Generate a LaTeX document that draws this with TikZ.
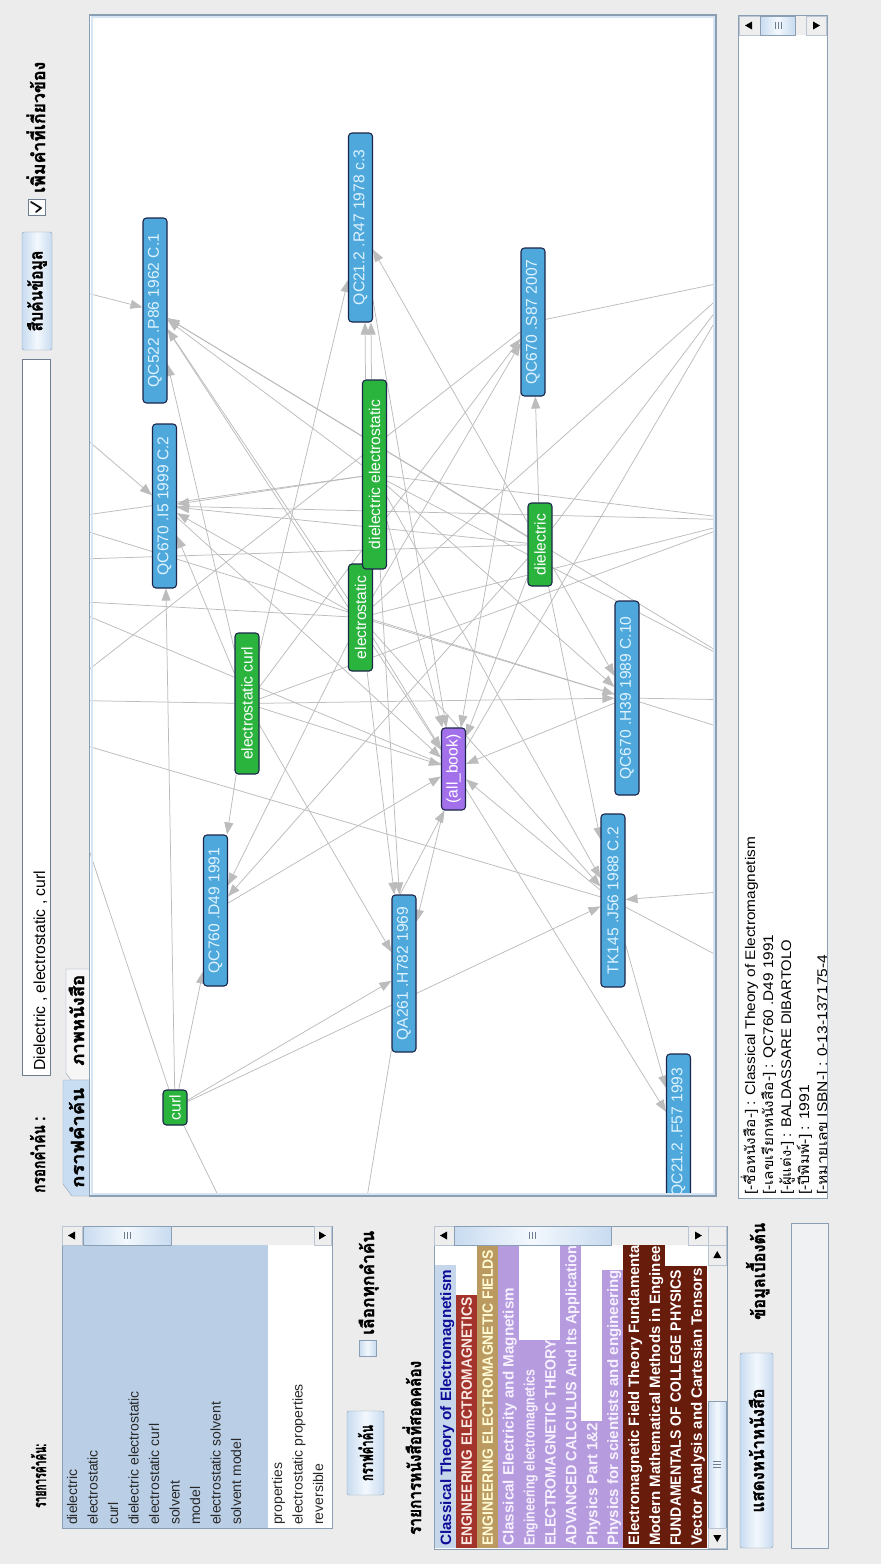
\documentclass[tikz,border=0pt]{standalone}
\usepackage{graphicx}
\usepackage{fontspec}
\usetikzlibrary{arrows.meta}
\newfontfamily\thaifont[Script=Thai]{Loma}
\newfontfamily\thaiheavy[Script=Thai,BoldFeatures={FakeBold=1.6}]{Loma}
\newfontfamily\uifont{Liberation Sans}
\newcommand\pxsize[1]{\fontsize{#1}{#1}\selectfont}
\newcommand\thaibold{\thaiheavy\bfseries\pxsize{18}}

\definecolor{guibg}{RGB}{236,236,236}
\definecolor{frame}{RGB}{138,158,180}
\definecolor{innerblue}{RGB}{214,228,244}
\definecolor{btnside}{RGB}{200,219,240}
\definecolor{btnmid}{RGB}{243,248,253}
\definecolor{tabsel}{RGB}{200,221,242}
\definecolor{tabgray}{RGB}{246,246,246}
\definecolor{selblue}{RGB}{186,206,229}
\definecolor{bookblue}{RGB}{78,168,220}
\definecolor{booktext}{RGB}{222,243,255}
\definecolor{keygreen}{RGB}{42,180,62}
\definecolor{allpurple}{RGB}{162,112,234}
\definecolor{nodeedge}{RGB}{28,38,74}
\definecolor{linkgray}{RGB}{188,188,188}
\definecolor{rowsel}{RGB}{198,215,236}
\definecolor{rowseltext}{RGB}{12,12,150}
\definecolor{rowred}{RGB}{163,52,44}
\definecolor{rowredtext}{RGB}{250,232,228}
\definecolor{rowtan}{RGB}{186,154,96}
\definecolor{rowtantext}{RGB}{255,250,212}
\definecolor{rowlav}{RGB}{182,156,222}
\definecolor{rowlavtext}{RGB}{246,240,255}
\definecolor{rowbrown}{RGB}{104,28,12}
\definecolor{textdark}{RGB}{24,24,24}
\definecolor{listtext}{RGB}{40,40,40}
\definecolor{trackgray}{RGB}{238,238,238}
\definecolor{fieldbg}{RGB}{240,241,243}

\pgfdeclarelayer{back}
\pgfdeclarelayer{edges}
\pgfsetlayers{back,edges,main}

\begin{document}
\begin{tikzpicture}[x=1pt,y=-1pt,
  rtext/.style={rotate=90, inner sep=0pt, anchor=base west},
  ctext/.style={rotate=90, inner sep=0pt},
  gnode/.style={rotate=90, draw=nodeedge, line width=1.1pt, rounded corners=3.5pt,
    inner sep=0pt, minimum height=24pt, font=\uifont\pxsize{15.6}},
  booknode/.style={gnode, fill=bookblue, text=booktext},
  keynode/.style={gnode, fill=keygreen, text=white},
  allnode/.style={gnode, fill=allpurple, text=white},
  link/.style={draw=linkgray, line width=0.75pt},
  arr/.style={link, -{Triangle[length=12pt,width=9pt]}},
  button/.style={draw=frame, rounded corners=2pt, left color=btnside, right color=btnside, middle color=btnmid},
  thumb/.style={draw=frame, left color=btnside, right color=btnside, middle color=btnmid},
  arrowbtn/.style={fill=trackgray, draw=frame!60},
]
\useasboundingbox (0,0) rectangle (881,1564);

\begin{pgfonlayer}{back}
  \fill[guibg] (0,0) rectangle (881,1564);
  \fill[white] (90,15) rectangle (716,1196);
\end{pgfonlayer}

% ---------- search bar ----------
\filldraw[fill=white, draw=frame!80!black] (28,199) rectangle (45,215);
\draw[line width=1.8pt, textdark, line cap=round, line join=round] (36,212) -- (41,208) -- (31,202);
\node[rtext] (addlbl) at (45,193) {\resizebox{131pt}{\height}{\thaibold เพิ่มคำที่เกี่ยวข้อง}};
\shadedraw[button] (22,232) rectangle (52,350);
\node[ctext] (searchbtn) at (37,291) {\resizebox{81pt}{\height}{\thaibold สืบค้นข้อมูล}};
\filldraw[fill=white, draw=frame!80!black] (22,359) rectangle (50,1075);
\node[rtext] (query) at (45,1071) {\resizebox{200pt}{\height}{\uifont\pxsize{16}Dielectric , electrostatic , curl}};
\node[rtext] (querylbl) at (45,1193) {\resizebox{76pt}{\height}{\thaibold กรอกคำค้น :}};

% ---------- tabs ----------
\filldraw[fill=tabgray, draw=frame] (90,969) -- (66,969) -- (66,1073) -- (71,1080) -- (90,1080);
\filldraw[fill=tabsel, draw=frame] (90,1080) -- (63,1080) -- (63,1184) -- (72,1196) -- (90,1196);
\node[rtext] (tabgraph) at (84,1188) {\resizebox{100pt}{\height}{\thaibold กราฟคำค้น}};
\node[rtext] (tabbook) at (84,1066) {\resizebox{91pt}{\height}{\thaibold ภาพหนังสือ}};

% ---------- graph nodes ----------
\begin{scope}
\clip (90,15) rectangle (716,1196);
\node[booknode, minimum width=185pt] (b1) at (155,310.5) {QC522 .P86 1962 C.1};
\node[booknode, minimum width=189pt] (b2) at (360.5,227.5) {QC21.2 .R47 1978 c.3};
\node[booknode, minimum width=148pt] (b3) at (533,322) {QC670 .S87 2007};
\node[booknode, minimum width=164pt] (b4) at (164.5,506) {QC670 .I5 1999 C.2};
\node[booknode, minimum width=194pt] (b10) at (627,698) {QC670 .H39 1989 C.10};
\node[booknode, minimum width=151pt] (b11) at (215.5,910.5) {QC760 .D49 1991};
\node[booknode, minimum width=157pt] (b13) at (404,973.5) {QA261 .H782 1969};
\node[booknode, minimum width=173pt] (b14) at (613,900.5) {TK145 .J56 1988 C.2};
\node[booknode, minimum width=156pt] (b15) at (678.5,1132) {QC21.2 .F57 1993};
\node[keynode, minimum width=141pt] (k2) at (247,703.5) {electrostatic curl};
\node[keynode, minimum width=107pt] (k4) at (360.5,617.5) {electrostatic};
\node[keynode, minimum width=189pt] (k3) at (374.5,474.5) {dielectric electrostatic};
\node[keynode, minimum width=83pt] (k5) at (540,544.5) {dielectric};
\node[keynode, minimum width=35pt] (k1) at (175,1107.5) {curl};
\node[allnode, minimum width=82pt] (ab) at (453.5,769) {(all\_book)};
\end{scope}

% ---------- graph links ----------
\begin{pgfonlayer}{edges}
\begin{scope}
\clip (90,15) rectangle (716,1196);
\coordinate (r1) at (740,279);
\coordinate (r2) at (745,520);
\coordinate (r3) at (745,668);
\coordinate (r4) at (745,700);
\coordinate (r5) at (745,890);
\coordinate (r6) at (760,978);
\coordinate (r7) at (745,735);
\coordinate (l1) at (40,281);
\coordinate (l2) at (50,408);
\coordinate (l3) at (50,520);
\coordinate (l4) at (50,560);
\coordinate (l5) at (50,600);
\coordinate (l6) at (50,700);
\coordinate (l7) at (70,793);
\coordinate (l8) at (50,735);
\coordinate (d1) at (240,1240);
\coordinate (d2) at (360,1240);
% curl
\draw[arr] (k1) -- (b11);
\draw[arr] (k1) -- (b4);
\draw[arr] (k1) -- (b13);
\draw[arr] (k1) -- (b14);
\draw[link] (k1) -- (l7);
\draw[link] (k1) -- (d1);
% electrostatic curl
\draw[arr] (k2) -- (b4);
\draw[arr] (k2) -- (b1);
\draw[arr] (k2) -- (b11);
\draw[arr] (k2) -- (b10);
\draw[arr] (k2) -- (b13);
\draw[arr] (k2) -- (ab);
\draw[arr] (k2) -- (b2);
\draw[arr] (k2) -- (b3);
\draw[link] (k2) -- (r2);
\draw[link] (k2) -- (l6);
% dielectric electrostatic
\draw[arr] ([xshift=-9pt]k3.east) -- ([xshift=4.5pt]b2.west);
\draw[arr] ([xshift=-3pt]k3.east) -- ([xshift=10.5pt]b2.west);
\draw[arr] (k3) -- (b1);
\draw[arr] (k3) -- (b4);
\draw[arr] (k3) -- (b13);
\draw[arr] (k3) -- (b10);
\draw[arr] (k3) -- (b14);
\draw[arr] (k3) -- (ab);
\draw[link] (k3) -- (l3);
\draw[link] (k3) -- (r2);
\draw[link] (k3) -- (r3);
% electrostatic
\draw[arr] (k4) -- (b1);
\draw[arr] (k4) -- (b4);
\draw[arr] (k4) -- (b13);
\draw[arr] (k4) -- (b14);
\draw[arr] (k4) -- (b10);
\draw[arr] (k4) -- (b11);
\draw[arr] (k4) -- (ab);
\draw[arr] (k4) -- (b3);
\draw[link] (k4) -- (r2);
\draw[link] (k4) -- (r1);
\draw[link] (k4) -- (l5);
% dielectric
\draw[arr] (k5) -- (b3);
\draw[arr] (k5) -- (b2);
\draw[arr] (k5) -- (b10);
\draw[arr] (k5) -- (b14);
\draw[arr] (k5) -- (b11);
\draw[arr] (k5) -- (ab);
\draw[arr] (k5) -- (b4);
\draw[arr] (k5) -- (b1);
\draw[link] (k5) -- (r1);
\draw[link] (k5) -- (l4);
% books and the collecting node
\draw[arr] (b1) -- (ab);
\draw[arr] (b2) -- (ab);
\draw[arr] (b3) -- (ab);
\draw[arr] (b4) -- (ab);
\draw[arr] (b10) -- (ab);
\draw[arr] (b11) -- (ab);
\draw[arr] (b14) -- (ab);
\draw[arr] ([xshift=-4pt]b13.east) -- ([xshift=-9pt]ab.west);
\draw[arr] (ab) -- (b13);
\draw[arr] (ab) -- (b15);
\draw[arr] (b14) -- (b15);
% links leaving the visible area
\draw[arr] (l1) -- (b1);
\draw[arr] (l2) -- (b4);
\draw[arr] (r5) -- (b14);
\draw[link] (b14) -- (r6);
\draw[link] (b13) -- (d2);
\draw[link] (b3) -- (r1);
\draw[link] (ab) -- (r1);
\draw[link] (b10) -- (r4);
\draw[link] (b10) -- (r7);
\draw[link] (b1) -- (r3);
\draw[link] (b4) -- (r2);
\draw[link] (l3) -- (b10);
\draw[link] (l8) -- (b14);
\draw[link] (l6) -- (b3);
\draw[link] (l5) -- (ab);
\end{scope}
\end{pgfonlayer}

% graph panel frame
\draw[innerblue, line width=2pt] (92,17) rectangle (714,1194);
\draw[frame, line width=1.4pt] (89.5,15) rectangle (716,1196);

% ---------- info box ----------
\filldraw[fill=white, draw=frame] (738,15) rectangle (827,1198);
\fill[trackgray] (739,16) rectangle (826,35);
\filldraw[arrowbtn] (739,16) rectangle (760,35);
\fill[black] (745,25.5) -- (752,21.5) -- (752,29.5) -- cycle;
\shadedraw[thumb] (760,16) rectangle (795,35);
\draw[frame!80!black] (775,22) -- (775,29) (778,22) -- (778,29) (781,22) -- (781,29);
\filldraw[arrowbtn] (806,16) rectangle (826,35);
\fill[black] (820,25.5) -- (813,21.5) -- (813,29.5) -- cycle;
\begin{scope}
\clip (739,36) rectangle (826,1197);
\node[rtext] (info1) at (755,1195) {\resizebox{358pt}{\height}{\uifont\pxsize{14}[-{\thaifont ชื่อหนังสือ}-] : Classical Theory of Electromagnetism}};
\node[rtext] (info2) at (773,1195) {\resizebox{260pt}{\height}{\uifont\pxsize{14}[-{\thaifont เลขเรียกหนังสือ}-] : QC760 .D49 1991}};
\node[rtext] (info3) at (791,1195) {\resizebox{255pt}{\height}{\uifont\pxsize{14}[-{\thaifont ผู้แต่ง}-] : BALDASSARE DIBARTOLO}};
\node[rtext] (info4) at (809,1195) {\resizebox{110pt}{\height}{\uifont\pxsize{14}[-{\thaifont ปีพิมพ์}-] : 1991}};
\node[rtext] (info5) at (827,1195) {\resizebox{240pt}{\height}{\uifont\pxsize{14}[-{\thaifont หมายเลข} ISBN-] : 0-13-137175-4}};
\end{scope}

% ---------- keyword list ----------
\node[rtext] (kwlbl) at (46,1508) {\resizebox{64pt}{\height}{\thaibold รายการคำค้น:}};
\filldraw[fill=white, draw=frame] (62,1226) rectangle (332,1528);
\fill[selblue] (62.5,1245) rectangle (268,1527.5);
\fill[trackgray] (62.5,1226.5) rectangle (331.5,1245);
\filldraw[arrowbtn] (62.5,1226.5) rectangle (82,1245);
\fill[black] (68,1235.5) -- (75,1231.5) -- (75,1239.5) -- cycle;
\shadedraw[thumb] (83,1226.5) rectangle (171,1245);
\draw[frame!80!black] (124,1232) -- (124,1239) (127,1232) -- (127,1239) (130,1232) -- (130,1239);
\filldraw[arrowbtn] (314,1226.5) rectangle (331.5,1245);
\fill[black] (326,1235.5) -- (319,1231.5) -- (319,1239.5) -- cycle;
\foreach \i/\txt in {1/dielectric,2/electrostatic,3/curl,4/dielectric electrostatic,
    5/electrostatic curl,6/solvent,7/model,8/electrostatic solvent,9/solvent model,
    11/properties,12/electrostatic properties,13/reversible}
  \node[rtext, font=\uifont\pxsize{14}, text=listtext] (kw\i) at ({77+20.5*(\i-1)},1525) {\txt};

\shadedraw[button] (347,1411) rectangle (384,1495);
\node[ctext] (graphbtn) at (365.5,1453) {\resizebox{56pt}{\height}{\thaibold กราฟคำค้น}};
\shadedraw[thumb] (359,1340) rectangle (376,1356);
\node[rtext] (alllbl) at (374,1335) {\resizebox{104pt}{\height}{\thaibold เลือกทุกคำค้น}};
\node[rtext] (booklbl) at (421,1535) {\resizebox{174pt}{\height}{\thaibold รายการหนังสือที่สอดคล้อง}};

% ---------- book list ----------
\filldraw[fill=white, draw=frame] (434,1226) rectangle (727,1549);
\begin{scope}
\clip (435,1245) rectangle (708,1548);
\foreach \i/\bgc/\fgc/\topy/\rowlen/\txt in {
    1/rowsel/rowseltext/1265/276/Classical Theory of Electromagnetism,
    2/rowred/rowredtext/1295/248/ENGINEERING ELECTROMAGNETICS,
    3/rowtan/rowtantext/1245/296/ENGINEERING ELECTROMAGNETIC FIELDS,
    4/rowlav/rowlavtext/1245/258/Classical Electricity and Magnetism,
    5/rowlav/rowlavtext/1340/176/Engineering electromagnetics,
    6/rowlav/rowlavtext/1340/206/ELECTROMAGNETIC THEORY,
    7/rowlav/rowlavtext/1245/300/ADVANCED CALCULUS And Its Application,
    8/rowlav/rowlavtext/1421/123/Physics Part 1\&2,
    9/rowlav/rowlavtext/1270/276/Physics for scientists and engineering,
    10/rowbrown/white/1245/313/Electromagnetic Field Theory Fundamentals,
    11/rowbrown/white/1245/328/Modern Mathematical Methods in Engineering,
    12/rowbrown/white/1266/276/FUNDAMENTALS OF COLLEGE PHYSICS,
    13/rowbrown/white/1266/278/Vector Analysis and Cartesian Tensors}
{
  \fill[\bgc] ({435+20.9*(\i-1)},\topy) rectangle ({435+20.9*\i},1548);
  \node[rtext, text=\fgc] (bk\i) at ({451+20.9*(\i-1)},1546)
    {\resizebox{\rowlen pt}{\height}{\uifont\bfseries\pxsize{15}\txt}};
}
\end{scope}
% list scroll bars
\fill[trackgray] (434.5,1226.5) rectangle (708,1245);
\filldraw[arrowbtn] (434.5,1226.5) rectangle (454,1245);
\fill[black] (440,1235.5) -- (447,1231.5) -- (447,1239.5) -- cycle;
\shadedraw[thumb] (454,1226.5) rectangle (611,1245);
\draw[frame!80!black] (529,1232) -- (529,1239) (532,1232) -- (532,1239) (535,1232) -- (535,1239);
\filldraw[arrowbtn] (688,1226.5) rectangle (708,1245);
\fill[black] (702,1235.5) -- (695,1231.5) -- (695,1239.5) -- cycle;
\fill[trackgray] (708,1226.5) rectangle (726.5,1548.5);
\draw[frame!60] (708,1226.5) rectangle (726.5,1245);
\filldraw[arrowbtn] (708,1245) rectangle (726.5,1265);
\fill[black] (717.25,1251) -- (713.25,1258) -- (721.25,1258) -- cycle;
\shadedraw[thumb] (708,1401) rectangle (726.5,1528);
\draw[frame!80!black] (713,1461) -- (721,1461) (713,1464) -- (721,1464) (713,1467) -- (721,1467);
\filldraw[arrowbtn] (708,1528) rectangle (726.5,1548.5);
\fill[black] (717.25,1542) -- (713.25,1535) -- (721.25,1535) -- cycle;

% ---------- details area ----------
\node[rtext] (infolbl) at (765,1320) {\resizebox{97pt}{\height}{\thaibold ข้อมูลเบื้องต้น}};
\shadedraw[button] (740,1353) rectangle (773,1548);
\node[ctext] (pagebtn) at (756.5,1450.5) {\resizebox{124pt}{\height}{\thaibold แสดงหน้าหนังสือ}};
\filldraw[fill=fieldbg, draw=frame] (791,1223) rectangle (828,1548);
\end{tikzpicture}
\end{document}
